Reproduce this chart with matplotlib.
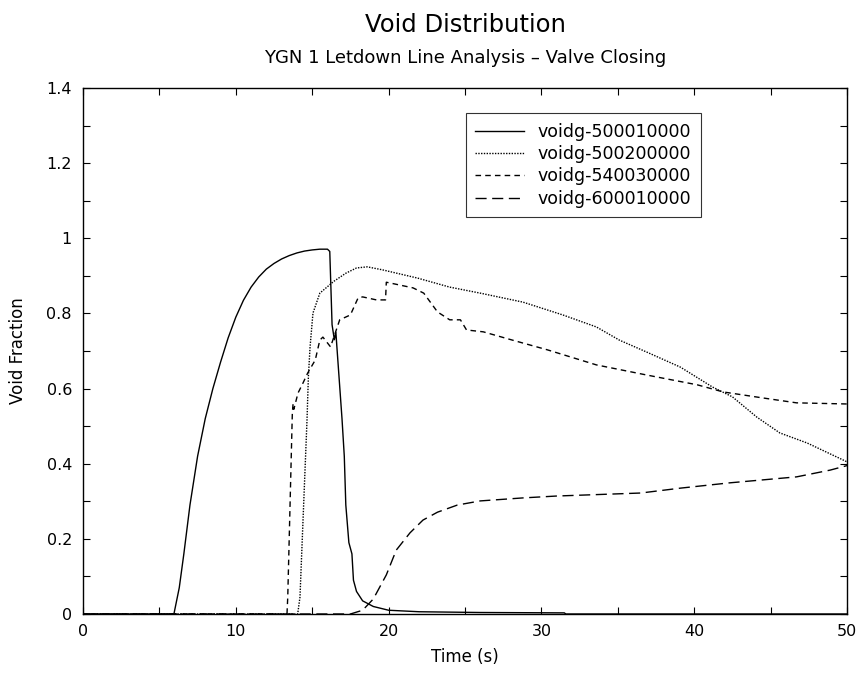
import matplotlib
matplotlib.use("Agg")
import matplotlib.pyplot as plt
from matplotlib.ticker import MultipleLocator

plt.rcParams['font.family'] = ['DejaVu Sans']

# voidg-500010000 (solid)
t_500010 = [0, 5.95, 6.3, 6.6, 7.0, 7.5, 8.0, 8.5, 9.0, 9.5, 10.0, 10.5, 11.0, 11.5, 12.0,
            12.5, 13.0, 13.5, 14.0, 14.5, 15.0, 15.5, 16.0, 16.15, 16.3, 16.45, 16.55,
            16.6, 16.95, 17.1, 17.2, 17.4, 17.6, 17.7, 17.9, 18.3, 19.0, 20.0, 22.0, 26.0,
            31.5, 31.6, 50]
v_500010 = [0, 0, 0.07, 0.16, 0.29, 0.42, 0.52, 0.6, 0.67, 0.735, 0.79, 0.835, 0.87, 0.897,
            0.918, 0.933, 0.945, 0.954, 0.961, 0.966, 0.969, 0.971, 0.971, 0.965, 0.77,
            0.73, 0.75, 0.72, 0.52, 0.42, 0.29, 0.19, 0.16, 0.09, 0.06, 0.035, 0.02, 0.01,
            0.006, 0.004, 0.003, 0, 0]

# voidg-500200000 (dotted)
t_500200 = [0, 14.05, 14.2, 14.4, 14.66, 14.75, 14.86, 15.05, 15.5, 16.4, 17.2, 17.9, 18.6,
            19.6, 21.9, 24.0, 26.0, 28.8, 31.4, 33.6, 35.1, 36.9, 39.1, 41.2, 42.5, 44.1,
            45.6, 47.4, 50]
v_500200 = [0, 0, 0.045, 0.25, 0.516, 0.631, 0.711, 0.801, 0.854, 0.885, 0.907, 0.921, 0.924,
            0.916, 0.894, 0.870, 0.854, 0.830, 0.796, 0.764, 0.729, 0.697, 0.657, 0.604,
            0.578, 0.524, 0.482, 0.455, 0.405]

# voidg-540030000 (short dash)
t_540030 = [0, 13.35, 13.4, 13.7, 13.75, 13.8, 14.07, 14.4, 14.7, 15.2, 15.5, 15.7, 16.2,
            16.8, 17.5, 18.0, 18.3, 19.2, 19.8, 19.85, 20.1, 21.6, 22.3, 23.2, 24.0, 24.7,
            25.1, 26.2, 28.1, 30.4, 33.6, 36.9, 40.2, 41.9, 44.5, 46.7, 50]
v_540030 = [0, 0, 0.045, 0.535, 0.56, 0.545, 0.588, 0.615, 0.641, 0.676, 0.729, 0.737, 0.711,
            0.783, 0.796, 0.841, 0.844, 0.836, 0.836, 0.883, 0.881, 0.868, 0.854, 0.804, 0.783,
            0.783, 0.756, 0.751, 0.729, 0.703, 0.663, 0.636, 0.610, 0.591, 0.575, 0.562, 0.559]

# voidg-600010000 (long dash)
t_600010 = [0, 17.5, 18.3, 19.0, 19.85, 20.5, 21.4, 22.25, 23.2, 24.5, 26.0, 28.8, 31.0,
            36.5, 39.1, 42.3, 44.5, 46.7, 48.9, 50]
v_600010 = [0, 0, 0.01, 0.04, 0.104, 0.17, 0.216, 0.25, 0.271, 0.29, 0.301, 0.309, 0.314,
            0.322, 0.335, 0.349, 0.357, 0.365, 0.383, 0.395]

labels = ["voidg-500010000", "voidg-500200000", "voidg-540030000", "voidg-600010000"]
yticks = [0, 0.2, 0.4, 0.6, 0.8, 1.0, 1.2, 1.4]
ytick_labels = ['0', '0.2', '0.4', '0.6', '0.8', '1', '1.2', '1.4']

fig = plt.figure(figsize=(8.63, 6.77), dpi=100)
ax = fig.add_axes([83/863, 1 - 614/677, 764/863, 526/677])

ax.plot(t_500010, v_500010, color='black', lw=1.0, ls='-', label=labels[0])
ax.plot(t_500200, v_500200, color='black', lw=1.0, ls=(0, (1, 1)), label=labels[1])
ax.plot(t_540030, v_540030, color='black', lw=1.0, ls=(0, (4, 3)), label=labels[2])
ax.plot(t_600010, v_600010, color='black', lw=1.0, ls=(0, (8, 4)), label=labels[3])

ax.set_xlim(0, 50)
ax.set_ylim(0, 1.4)
ax.xaxis.set_major_locator(MultipleLocator(10))
ax.xaxis.set_minor_locator(MultipleLocator(5))
ax.set_yticks(yticks)
ax.set_yticklabels(ytick_labels)
ax.yaxis.set_minor_locator(MultipleLocator(0.1))
ax.tick_params(which='both', direction='in', top=True, right=True, length=5, width=0.8,
               labelsize=11.5)
ax.tick_params(axis='y', pad=8)
ax.tick_params(axis='x', pad=7)
for s in ax.spines.values():
    s.set_linewidth(1.0)

ax.set_xlabel("Time (s)", fontsize=12, labelpad=7)
ax.set_ylabel("Void Fraction", fontsize=12, labelpad=14)

fig.text(465/863, 1 - 25/677, "Void Distribution", ha='center', va='center', fontsize=17.5)
fig.text(465/863, 1 - 58/677, "YGN 1 Letdown Line Analysis \u2013 Valve Closing",
         ha='center', va='center', fontsize=13)

leg = ax.legend(loc='upper left', bbox_to_anchor=(0.501, 0.952), fontsize=12.5,
                frameon=True, fancybox=False, handlelength=2.8, borderpad=0.55,
                labelspacing=0.25, handletextpad=0.8, borderaxespad=0)
leg.get_frame().set_edgecolor('black')
leg.get_frame().set_linewidth(0.8)

fig.savefig("out.png", dpi=100)
